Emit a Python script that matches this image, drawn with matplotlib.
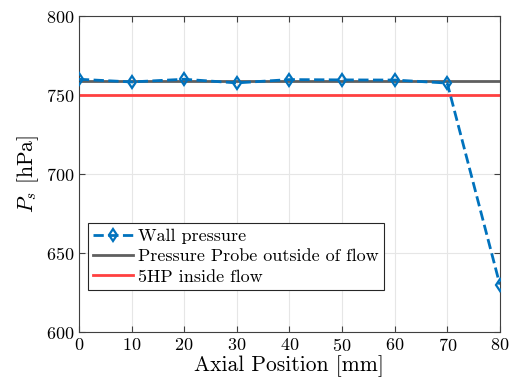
import numpy as np
import matplotlib.pyplot as plt

plt.rcParams['font.family'] = 'cmr10'
plt.rcParams['mathtext.fontset'] = 'cm'
plt.rcParams['axes.formatter.use_mathtext'] = True

position = [0, 10, 20, 30, 40, 50, 60, 70, 80]
wall_pressure = [760, 758.3, 760, 757.7, 759.8, 759.6, 759.5, 757.6, 630]
probe_outside = 759
hp5_inside = 750

fig = plt.figure(figsize=(5.09, 3.92), dpi=100)
ax = fig.add_axes([0.155, 0.153, 0.827, 0.806])

ax.plot(position, wall_pressure, '--d', color='#0072BD', lw=2, ms=6.5,
        mfc='none', mew=1.6, label='Wall pressure', zorder=4)
ax.axhline(probe_outside, color='#5f5f5f', lw=2, label='Pressure Probe outside of flow')
ax.axhline(hp5_inside, color='#ff4040', lw=2, label='5HP inside flow')

ax.set_xlim(0, 80)
ax.set_ylim(600, 800)
ax.set_xticks(np.arange(0, 81, 10))
ax.set_yticks(np.arange(600, 801, 50))
ax.grid(True, color='#e6e6e6', lw=0.8)
ax.set_axisbelow(True)
ax.tick_params(direction='in', top=True, right=True, labelsize=13, length=4, color='#404040')
for s in ax.spines.values():
    s.set_color('#404040')

ax.set_xlabel('Axial Position [mm]', fontsize=15.5, labelpad=1)
ax.set_ylabel('$P_s$ [hPa]', fontsize=15.5, labelpad=3)

leg = ax.legend(loc='lower left', bbox_to_anchor=(0.021, 0.133), fontsize=13, fancybox=False,
                edgecolor='#262626', framealpha=1, handlelength=2.2, borderpad=0.3,
                labelspacing=0.25, handletextpad=0.3, borderaxespad=0)
leg.get_frame().set_linewidth(0.8)

fig.savefig('out.png', dpi=100)
